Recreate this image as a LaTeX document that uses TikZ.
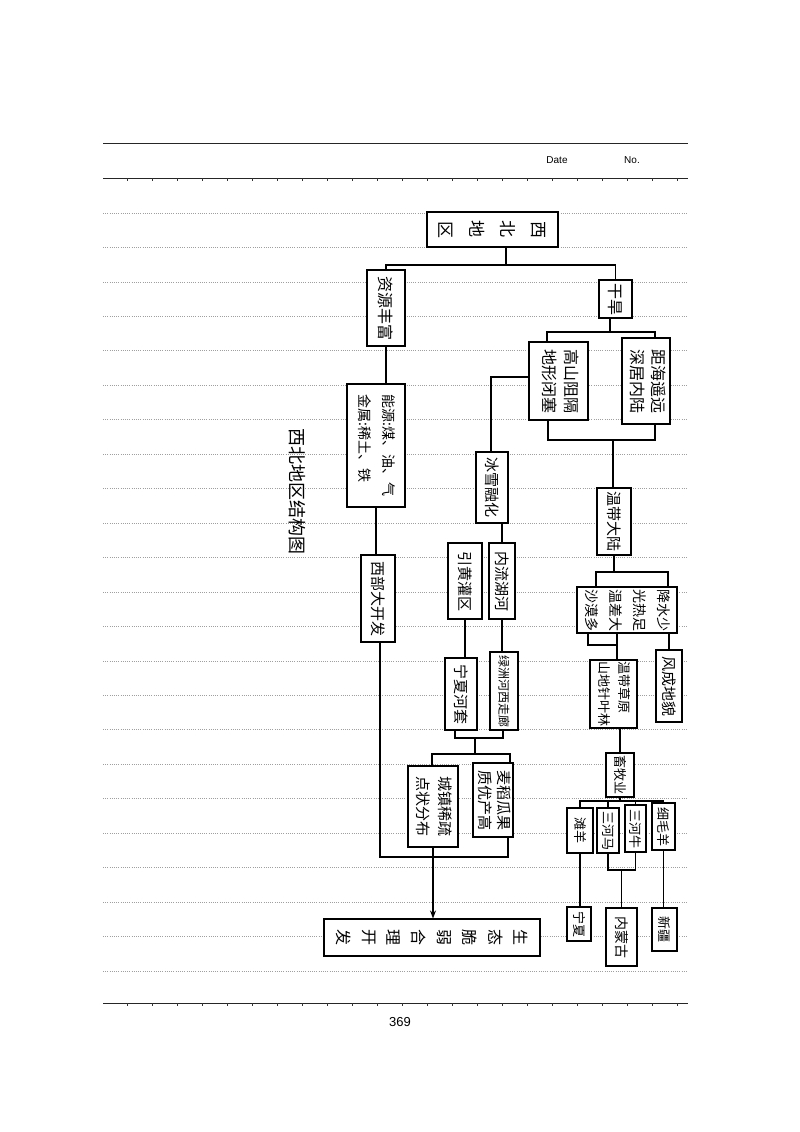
\documentclass[tikz,border=0pt]{standalone}
\usepackage{fontspec}
\setmainfont{Liberation Sans}
\newfontfamily\cjk{Noto Sans CJK SC}
\usepackage{graphicx}
\usetikzlibrary{arrows.meta}
\newcommand\rc[1]{\rotatebox[origin=c]{-90}{#1}}
\newcommand\rt[1]{\rotatebox[origin=c]{-90}{\begin{tabular}{@{}l@{}}#1\end{tabular}}}
\newcommand\fs[2]{\fontsize{#1}{#2}\selectfont}
\tikzset{
  box/.style={draw, line width=1.1pt, fill=white, inner sep=0pt, font=\cjk},
  conn/.style={line width=1.1pt},
  dotline/.style={gray!75, line width=0.7pt, dash pattern=on 1pt off 1.2pt},
  rule/.style={black!85, line width=1pt}
}
\begin{document}
\begin{tikzpicture}[x=1pt,y=-1pt]
\useasboundingbox (0,0) rectangle (800,1132);
\fill[white] (0,0) rectangle (800,1132);
% notebook rules
\draw[rule] (103,143) -- (688,143);
\draw[rule] (103,178) -- (688,178);
\draw[rule] (103,1003) -- (688,1003);
\foreach \tx in {127,152,...,680}{
  \draw[black!80, line width=0.6pt] (\tx,178) -- (\tx,181);
  \draw[black!80, line width=0.6pt] (\tx,1003) -- (\tx,1006);
}
\node[font=\fs{10}{11}] (date) at (557,160) {Date};
\node[font=\fs{10}{11}] (no) at (632,160) {No.};
\node[font=\fs{13}{14}] (page) at (400,1022) {369};
\foreach \k in {0,...,22}{
  \draw[dotline] (103,213+34.45*\k) -- (688,213+34.45*\k);
}
% title
\node[font=\cjk\fs{18}{20}] (title) at (297,491) {\rotatebox[origin=c]{-90}{西北地区结构图}};

% boxes
\node[box, minimum width=131pt, minimum height=35pt, font=\cjk\fs{17}{20}] (root) at (492.5,229.5)
  {\rc{区}\hspace{16pt}\rc{地}\hspace{16pt}\rc{北}\hspace{16pt}\rc{西}};
\node[box, minimum width=38pt, minimum height=76pt, font=\cjk\fs{16}{20}] (ziyuan) at (386,308) {\rc{资源丰富}};
\node[box, minimum width=33pt, minimum height=38pt, font=\cjk\fs{16}{20}] (ganhan) at (615.5,299) {\rc{干旱}};
\node[box, minimum width=59pt, minimum height=78pt, font=\cjk\fs{16}{22}] (gaoshan) at (558.5,381) {\rt{高山阻隔\\地形闭塞}};
\node[box, minimum width=48pt, minimum height=86pt, font=\cjk\fs{16}{21}] (juhai) at (646,381) {\rt{距海遥远\\深居内陆}};
\node[box, minimum width=58pt, minimum height=123pt, font=\cjk\fs{14}{24}] (nengyuan) at (376,445.5) {\rt{能源:煤、油、气\\金属:稀土、铁}};
\node[box, minimum width=34pt, minimum height=87pt, font=\cjk\fs{15}{20}] (xibu) at (378,598.5) {\rc{西部大开发}};
\node[box, minimum width=32pt, minimum height=71pt, font=\cjk\fs{15}{20}] (bingxue) at (492,487.5) {\rc{冰雪融化}};
\node[box, minimum width=34pt, minimum height=76pt, font=\cjk\fs{15}{20}] (yinhuang) at (465,581) {\rc{引黄灌区}};
\node[box, minimum width=26pt, minimum height=76pt, font=\cjk\fs{15}{20}] (neiliu) at (502,581) {\rc{内流湖河}};
\node[box, minimum width=32pt, minimum height=72pt, font=\cjk\fs{15}{20}] (ningxia) at (461,694) {\rc{宁夏河套}};
\node[box, minimum width=28pt, minimum height=78pt, font=\cjk\fs{12}{20}] (lvzhou) at (504,691) {\rc{绿洲河西走廊}};
\node[box, minimum width=40pt, minimum height=74pt, font=\cjk\fs{15}{19}] (maidao) at (493,800) {\rt{麦稻瓜果\\质优产高}};
\node[box, minimum width=50pt, minimum height=81pt, font=\cjk\fs{15}{22}] (chengzhen) at (433,806.5) {\rt{城镇稀疏\\点状分布}};
\node[box, minimum width=216pt, minimum height=37pt, font=\cjk\fs{16}{20}] (shengtai) at (432,937.5)
  {\rc{发}\hspace{11pt}\rc{开}\hspace{11pt}\rc{理}\hspace{11pt}\rc{合}\hspace{11pt}\rc{弱}\hspace{11pt}\rc{脆}\hspace{11pt}\rc{态}\hspace{11pt}\rc{生}};
\node[box, minimum width=34pt, minimum height=67pt, font=\cjk\fs{15}{20}] (wendai) at (614,521.5) {\rc{温带大陆}};
\node[box, minimum width=100pt, minimum height=46pt, font=\cjk\fs{14}{24}] (jiangshui) at (627,610) {\rt{降水少\\光热足\\温差大\\沙漠多}};
\node[box, minimum width=47pt, minimum height=68pt, font=\cjk\fs{13}{20}] (caoyuan) at (613.5,694) {\rt{温带草原\\山地针叶林}};
\node[box, minimum width=26pt, minimum height=72pt, font=\cjk\fs{15}{20}] (fengcheng) at (669,686) {\rc{风成地貌}};
\node[box, minimum width=28pt, minimum height=44pt, font=\cjk\fs{13}{20}] (xumu) at (620,775) {\rc{畜牧业}};
\node[box, minimum width=26pt, minimum height=45pt, font=\cjk\fs{13}{20}] (tanyang) at (580,830.5) {\rc{滩羊}};
\node[box, minimum width=22pt, minimum height=45pt, font=\cjk\fs{13}{20}] (sanhema) at (608,830.5) {\rc{三河马}};
\node[box, minimum width=21pt, minimum height=47pt, font=\cjk\fs{13}{20}] (sanheniu) at (635.5,828.5) {\rc{三河牛}};
\node[box, minimum width=23pt, minimum height=47pt, font=\cjk\fs{13}{20}] (ximao) at (663.5,826.5) {\rc{细毛羊}};
\node[box, minimum width=24pt, minimum height=34pt, font=\cjk\fs{13}{20}] (nxbox) at (579,924) {\rc{宁夏}};
\node[box, minimum width=31pt, minimum height=58pt, font=\cjk\fs{14}{20}] (nmg) at (621.5,937) {\rc{内蒙古}};
\node[box, minimum width=25pt, minimum height=43pt, font=\cjk\fs{13}{20}] (xj) at (664.5,929.5) {\rc{新疆}};

% connectors
\coordinate (j1) at (506,265);
\draw[conn] (root.south -| j1) -- (j1);
\draw[conn] (ziyuan.north) |- (j1) -| (ganhan.north);
\draw[conn] (ziyuan.south) -- (ziyuan.south |- nengyuan.north);
\draw[conn] (nengyuan.south) -- (nengyuan.south |- xibu.north);
\coordinate (b1) at (380,857);
\coordinate (b2) at (508,857);
\draw[conn] (xibu.south -| b1) -- (b1) -- (b2) -- (b2 |- maidao.south);
\draw[conn, -{Stealth[length=8pt,width=6pt]}] (chengzhen.south) -- (chengzhen.south |- shengtai.north);

\coordinate (j2) at (610,332);
\coordinate (j2l) at (547,332);
\coordinate (j2r) at (655,332);
\draw[conn] (ganhan.south -| j2) -- (j2);
\draw[conn] (j2l |- gaoshan.north) -- (j2l) -- (j2r) -- (j2r |- juhai.north);
\coordinate (j3) at (613,440);
\coordinate (j3l) at (548,440);
\coordinate (j3r) at (655,440);
\draw[conn] (j3l |- gaoshan.south) -- (j3l) -- (j3r) -- (j3r |- juhai.south);
\draw[conn] (j3) -- (j3 |- wendai.north);
\coordinate (j4) at (491,377);
\draw[conn] (gaoshan.west |- j4) -- (j4) -- (j4 |- bingxue.north);
\draw[conn] (bingxue.south -| neiliu.north) -- (neiliu.north);
\draw[conn] (yinhuang.south) -- (yinhuang.south |- ningxia.north);
\draw[conn] (neiliu.south) -- (neiliu.south |- lvzhou.north);
\coordinate (j6) at (475,738);
\coordinate (j6l) at (455,738);
\coordinate (j6r) at (503,738);
\draw[conn] (j6l |- ningxia.south) -- (j6l) -- (j6r) -- (j6r |- lvzhou.south);
\coordinate (j7l) at (432,754);
\coordinate (j7r) at (510,754);
\draw[conn] (j6) -- (j6 |- j7l);
\draw[conn] (j7l |- chengzhen.north) -- (j7l) -- (j7r) -- (j7r |- maidao.north);

\coordinate (j8l) at (596,572);
\coordinate (j8r) at (668,572);
\draw[conn] (wendai.south) -- (wendai.south |- j8l);
\draw[conn] (j8l |- jiangshui.north) -- (j8l) -- (j8r) -- (j8r |- jiangshui.north);
\coordinate (j9l) at (588,645);
\coordinate (j9r) at (617,645);
\draw[conn] (j9l |- jiangshui.south) -- (j9l) -- (j9r) -- (j9r |- jiangshui.south);
\draw[conn] (j9r) -- (j9r |- caoyuan.north);
\draw[conn] (fengcheng.north |- jiangshui.south) -- (fengcheng.north);
\draw[conn] (caoyuan.south -| xumu.north) -- (xumu.north);
\coordinate (j10) at (620,801);
\draw[conn] (xumu.south) -- (j10);
\draw[conn] (tanyang.north) -- (tanyang.north |- j10) -- (ximao.north |- j10) -- (ximao.north);
\draw[conn] (sanhema.north) -- (sanhema.north |- j10);
\draw[conn] (sanheniu.north) -- (sanheniu.north |- j10);
\draw[conn] (tanyang.south) -- (tanyang.south |- nxbox.north);
\coordinate (j11) at (621.5,870);
\draw[conn] (sanhema.south) |- (j11) -| (sanheniu.south);
\draw[conn] (j11) -- (nmg.north);
\draw[conn] (ximao.south) -- (ximao.south |- xj.north);
\end{tikzpicture}
\end{document}
